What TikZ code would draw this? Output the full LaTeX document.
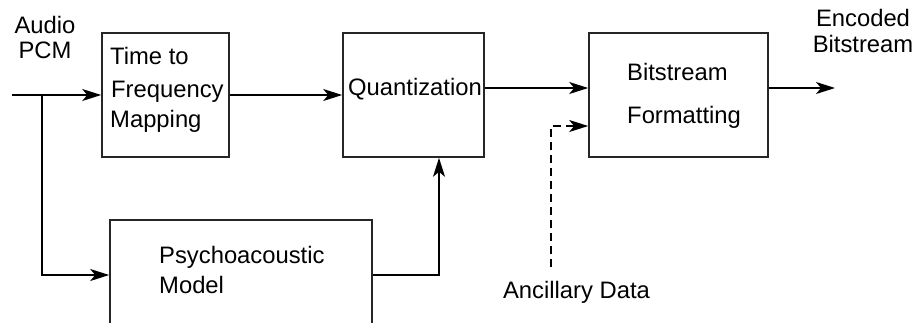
\documentclass[tikz,border=0pt]{standalone}
\usepackage{fontspec}
\setmainfont{Liberation Sans}
\usetikzlibrary{arrows.meta}
\begin{document}
\begin{tikzpicture}[x=1pt,y=-1pt,
  font=\fontsize{23.8}{28}\selectfont,
  blockbox/.style={draw=black!85, line width=1.6pt, minimum width=#1, inner sep=0pt},
  txt/.style={inner sep=0pt, anchor=base west},
  ctxt/.style={inner sep=0pt, anchor=base},
  arr/.style={line width=1.6pt, -{Stealth[length=19pt,width=12pt,inset=5pt]}},
  darr/.style={arr, dash pattern=on 8pt off 5pt}]
\useasboundingbox (0,0) rectangle (918,322);
\clip (0,0) rectangle (918,322);

% processing blocks
\node[blockbox=127pt, minimum height=124pt] (tf)  at (165.5,95) {};
\node[blockbox=141pt, minimum height=124pt] (q)   at (413.5,95) {};
\node[blockbox=179pt, minimum height=124pt] (bf)  at (678.5,95) {};
\node[blockbox=262pt, minimum height=110pt] (psy) at (241,275) {};

% block texts
\node[txt] (tf1) at (110,64)  {Time to};
\node[txt] (tf2) at (111,97)  {Frequency};
\node[txt] (tf3) at (110,127) {Mapping};
\node[txt] (qt)  at (348,95)  {Quantization};
\node[txt] (bf1) at (627,80)  {Bitstream};
\node[txt] (bf2) at (627,123) {Formatting};
\node[txt] (ps1) at (159,263) {Psychoacoustic};
\node[txt] (ps2) at (159,293) {Model};

% signal labels
\node[ctxt] (au1) at (45,33)  {Audio};
\node[ctxt] (au2) at (45,58)  {PCM};
\node[ctxt] (en1) at (863,26) {Encoded};
\node[ctxt] (en2) at (863,52) {Bitstream};
\node[ctxt] (an)  at (576.5,298) {Ancillary Data};

% free ends of the connectors
\coordinate (in)  at (12,95);
\coordinate (br)  at (42,95);
\coordinate (out) at (835,88);
\coordinate (anc) at (551,267);

% connectors
\draw[arr] (in) -- (tf.west);
\draw[arr] (br) |- (psy.west);
\draw[arr] (tf.east) -- (q.west);
\draw[arr] ([yshift=7pt]q.east) -- ([yshift=7pt]bf.west);
\draw[arr] ([yshift=7pt]bf.east) -- (out);
\draw[arr] (psy.east) -| ([xshift=25.5pt]q.south);
\draw[darr] (anc) |- ([yshift=-31pt]bf.west);
\end{tikzpicture}
\end{document}
